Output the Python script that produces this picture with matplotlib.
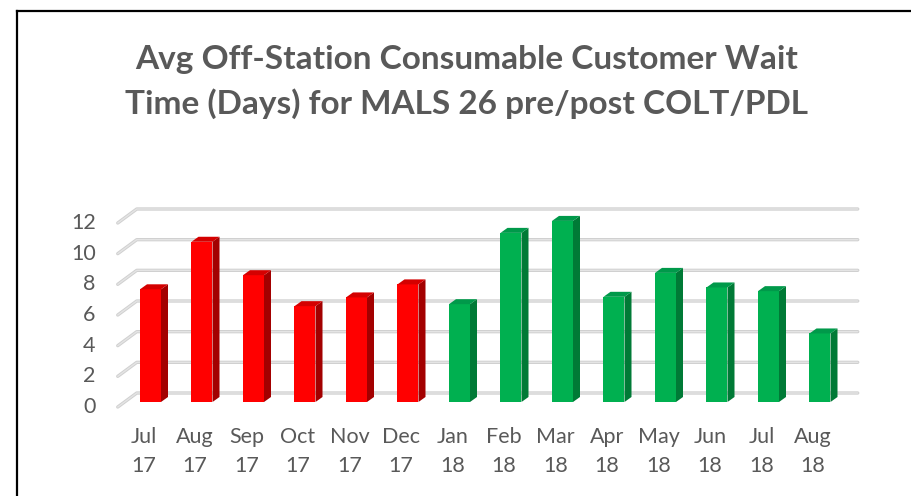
import matplotlib
matplotlib.use("Agg")
import matplotlib.pyplot as plt
from matplotlib.patches import Polygon
from matplotlib.lines import Line2D

months = ["Jul", "Aug", "Sep", "Oct", "Nov", "Dec", "Jan", "Feb", "Mar", "Apr", "May", "Jun", "Jul", "Aug"]
years = ["17", "17", "17", "17", "17", "17", "18", "18", "18", "18", "18", "18", "18", "18"]
values = [7.35, 10.45, 8.27, 6.25, 6.82, 7.67, 6.38, 11.03, 11.81, 6.86, 8.42, 7.47, 7.23, 4.47]
period = ["pre"] * 6 + ["post"] * 8
yticks = [0, 2, 4, 6, 8, 10, 12]
title = "Avg Off-Station Consumable Customer Wait\nTime (Days) for MALS 26 pre/post COLT/PDL"

colors = {
    "pre": ("#FF0000", "#A30000", "#D40000"),
    "post": ("#00B050", "#007A36", "#00994A"),
}

plt.rcParams["font.family"] = ["Lato", "DejaVu Sans"]
TXT = "#595959"

W, H, DPI = 912, 496, 100
fig = plt.figure(figsize=(W / DPI, H / DPI), dpi=DPI)
fig.patch.set_facecolor("white")

# front plane of the pseudo-3D axes (pixels)
L, R = 117.75, 838.75
B, T = 407, 223
ax = fig.add_axes([L / W, 1 - B / H, (R - L) / W, (B - T) / H])
ax.set_xlim(-0.5, len(values) - 0.5)
ax.set_ylim(0, 12)
ax.axis("off")

px_x = (R - L) / len(values)      # pixels per category
px_y = (B - T) / 12.0             # pixels per value unit

# back plane offset (pixels) and bar offsets
back_dx, back_dy = 19, 14
bar_dx, bar_dy = 7, 5
depth_dx, depth_dy = 7, 5
bw = 21 / px_x

bdx = back_dx / px_x
bdy = back_dy / px_y

# gridlines
for v in yticks:
    xs = [-0.5, -0.5 + bdx, len(values) - 0.5 + bdx]
    ys = [v, v + bdy, v + bdy]
    ax.plot(xs, ys, color="#d0d0d0", lw=2.4, clip_on=False, solid_capstyle="round", zorder=1)
    ax.plot(xs, ys, color="#e4e4e4", lw=1.0, clip_on=False, solid_capstyle="round", zorder=1)
    ax.text(-0.5 - 22 / px_x, v, str(v), ha="right", va="center", fontsize=15.5, color=TXT)

ox = bar_dx / px_x
oy = bar_dy / px_y
ddx = depth_dx / px_x
ddy = depth_dy / px_y
for i, (v, p) in enumerate(zip(values, period)):
    front, side, top = colors[p]
    x0 = i + ox - bw / 2
    x1 = i + ox + bw / 2
    y0 = oy
    y1 = oy + v
    ax.add_patch(Polygon([(x0, y0), (x1, y0), (x1, y1), (x0, y1)], closed=True,
                         facecolor=front, edgecolor="none", zorder=3, clip_on=False))
    ax.add_patch(Polygon([(x1, y0), (x1 + ddx, y0 + ddy), (x1 + ddx, y1 + ddy), (x1, y1)], closed=True,
                         facecolor=side, edgecolor="none", zorder=3, clip_on=False))
    ax.add_patch(Polygon([(x0, y1), (x1, y1), (x1 + ddx, y1 + ddy), (x0 + ddx, y1 + ddy)], closed=True,
                         facecolor=top, edgecolor="none", zorder=3, clip_on=False))

# category labels
for i, (m, y) in enumerate(zip(months, years)):
    ax.text(i, -30 / px_y, m, ha="center", va="center", fontsize=15.5, color=TXT)
    ax.text(i, -59 / px_y, y, ha="center", va="center", fontsize=15.5, color=TXT)

fig.text(467 / W, 1 - 82 / H, title, ha="center", va="center", fontsize=24,
         fontweight="bold", color=TXT, linespacing=1.55)

# chart border (left and top)
fig.add_artist(Line2D([17 / W, 17 / W], [0, 1 - 11 / H], color="black", lw=1.6))
fig.add_artist(Line2D([17 / W, 1], [1 - 11 / H, 1 - 11 / H], color="black", lw=1.6))

fig.savefig("out.png", dpi=DPI, facecolor="white")
